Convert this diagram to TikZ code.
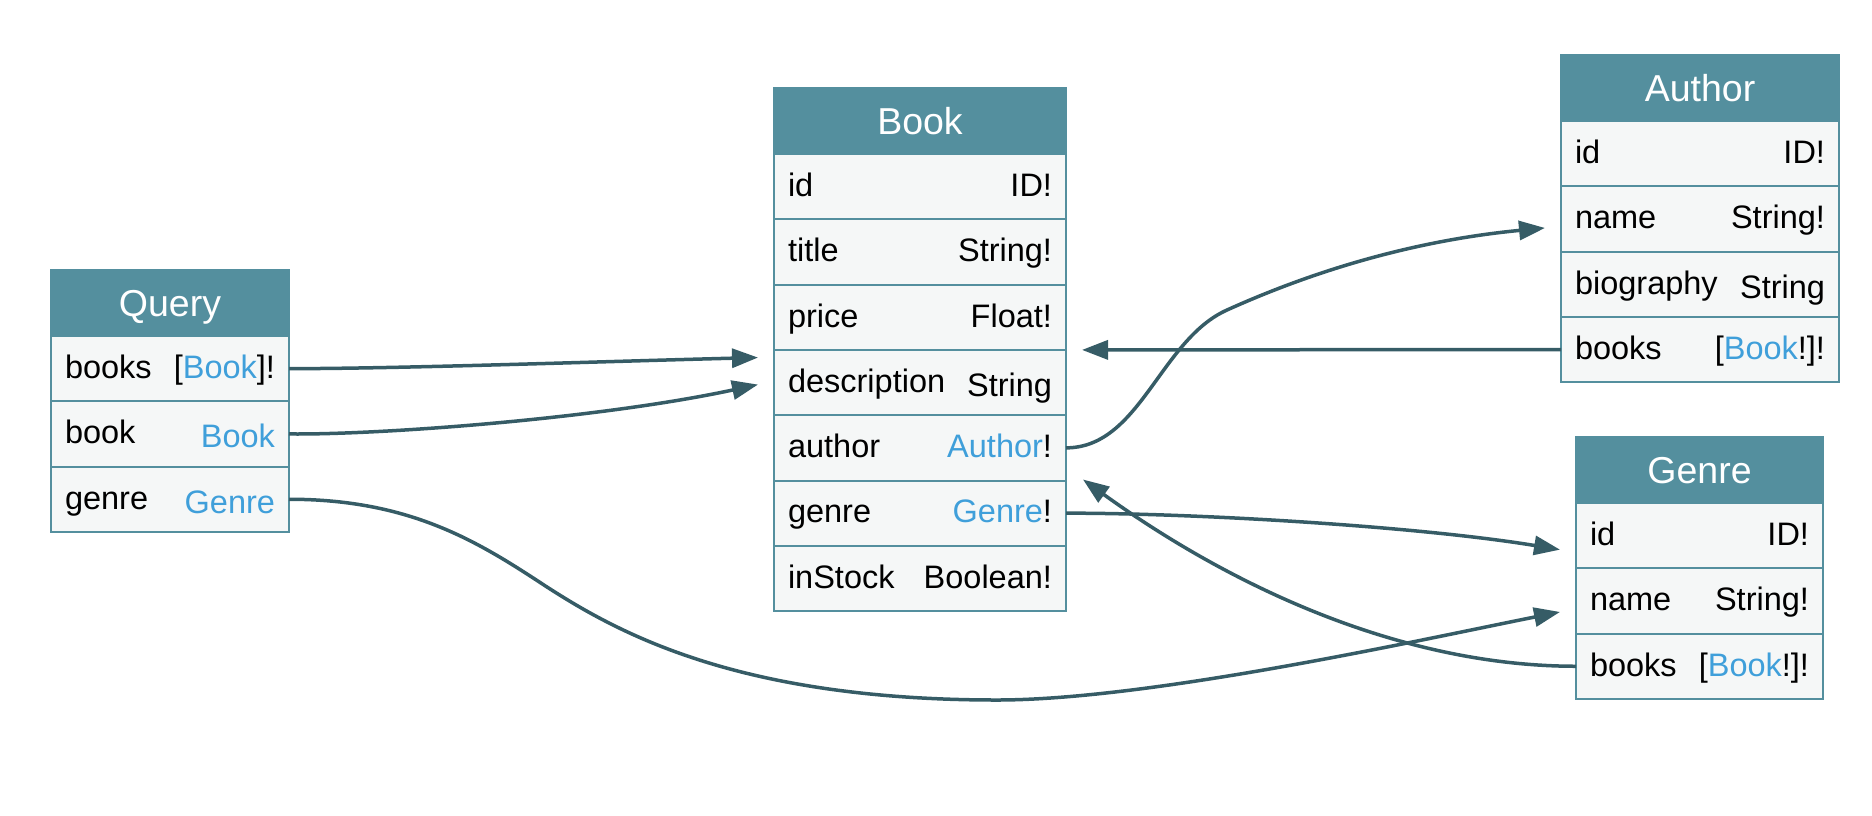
\documentclass[tikz,border=0pt]{standalone}
\usepackage{fontspec}
\setmainfont{Liberation Sans}
\usetikzlibrary{positioning,arrows.meta}

\definecolor{headteal}{HTML}{548F9E}
\definecolor{cellgray}{HTML}{F5F7F7}
\definecolor{linkslate}{HTML}{365C66}
\definecolor{typeblue}{HTML}{3F9FDA}

\newcommand\tb[1]{\textcolor{typeblue}{#1}}
\newcommand\field[2]{\makebox[\linewidth]{#1\hfill#2}}
\newcommand\low[1]{\raisebox{-4pt}{#1}}

\tikzset{
  tbl/.style={rectangle, draw=headteal, line width=2pt, outer sep=0pt, inner ysep=0pt},
  head/.style={tbl, fill=headteal, text=white, align=center, minimum height=66pt,
    font=\fontsize{37.5}{45}\selectfont, text height=26pt, text depth=0pt},
  cell/.style={tbl, fill=cellgray, minimum height=65.3pt, inner xsep=14pt,
    font=\fontsize{32.5}{39}\selectfont, text height=24pt, text depth=4.5pt,
    below=0pt of #1},
  link/.style={draw=linkslate, line width=3.5pt, -{Triangle[length=26pt,width=19pt]}}
}

\begin{document}
\begin{tikzpicture}[x=1pt, y=-1pt]

    \useasboundingbox (0,0) rectangle (1872,815);

    % Query
    \begin{scope}[every node/.append style={minimum width=238pt, text width=210pt}]
    \node[head, anchor=north west] (query) at (51,270) {Query};
    \node[cell=query] (query-books) {\field{books}{[\tb{Book}]!}};
    \node[cell=query-books] (query-book) {\field{book}{\low{\tb{Book}}}};
    \node[cell=query-book] (query-genre) {\field{genre}{\low{\tb{Genre}}}};
    \end{scope}

    % Book
    \begin{scope}[every node/.append style={minimum width=292pt, text width=264pt}]
    \node[head, anchor=north west] (book) at (774,88) {Book};
    \node[cell=book] (book-id) {\field{id}{ID!}};
    \node[cell=book-id] (book-title) {\field{title}{String!}};
    \node[cell=book-title] (book-price) {\field{price}{Float!}};
    \node[cell=book-price] (book-description) {\field{description}{\low{String}}};
    \node[cell=book-description] (book-author) {\field{author}{\tb{Author}!}};
    \node[cell=book-author] (book-genre) {\field{genre}{\tb{Genre}!}};
    \node[cell=book-genre] (book-instock) {\field{inStock}{Boolean!}};
    \end{scope}

    % Author
    \begin{scope}[every node/.append style={minimum width=278pt, text width=250pt}]
    \node[head, anchor=north west] (author) at (1561,55) {Author};
    \node[cell=author] (author-id) {\field{id}{ID!}};
    \node[cell=author-id] (author-name) {\field{name}{String!}};
    \node[cell=author-name] (author-biography) {\field{biography}{\low{String}}};
    \node[cell=author-biography] (author-books) {\field{books}{[\tb{Book}!]!}};
    \end{scope}

    % Genre
    \begin{scope}[every node/.append style={minimum width=247pt, text width=219pt}]
    \node[head, anchor=north west] (genre) at (1576,437) {Genre};
    \node[cell=genre] (genre-id) {\field{id}{ID!}};
    \node[cell=genre-id] (genre-name) {\field{name}{String!}};
    \node[cell=genre-name] (genre-books) {\field{books}{[\tb{Book}!]!}};
    \end{scope}

    % links
    %% from Query
    \draw[link] (query-books.east) .. controls +(111,0) and +(-158,4) .. ([shift={(-16,-25)}]book-description.west);
    \draw[link] (query-book.east) .. controls +(91,1) and +(-158,34) .. ([shift={(-16,2)}]book-description.west);
    \draw[link] (query-genre.east) .. controls +(123,0) and +(-67,-44) .. (547,587)
        .. controls +(73,47) and +(-257,0) .. (997,700)
        .. controls +(153,0) and +(-140,28) .. ([shift={(-16,11)}]genre-name.west);
    %% from Book
    \draw[link] (book-author.east) .. controls +(74,0) and +(-67,30) .. (1227,310)
        .. controls +(93,-42) and +(-125,12) .. ([shift={(-16,9)}]author-name.west);
    \draw[link] (book-genre.east) .. controls +(134,0) and +(-140,-23) .. ([shift={(-16,14)}]genre-id.west);
    %% back to Book
    \draw[link] (author-books.west) -- ([shift={(16,0)}]book-price.south east);
    \draw[link] (genre-books.west) .. controls +(-176,0) and +(147,106) .. ([shift={(17,-1)}]book-genre.north east);

\end{tikzpicture}
\end{document}
